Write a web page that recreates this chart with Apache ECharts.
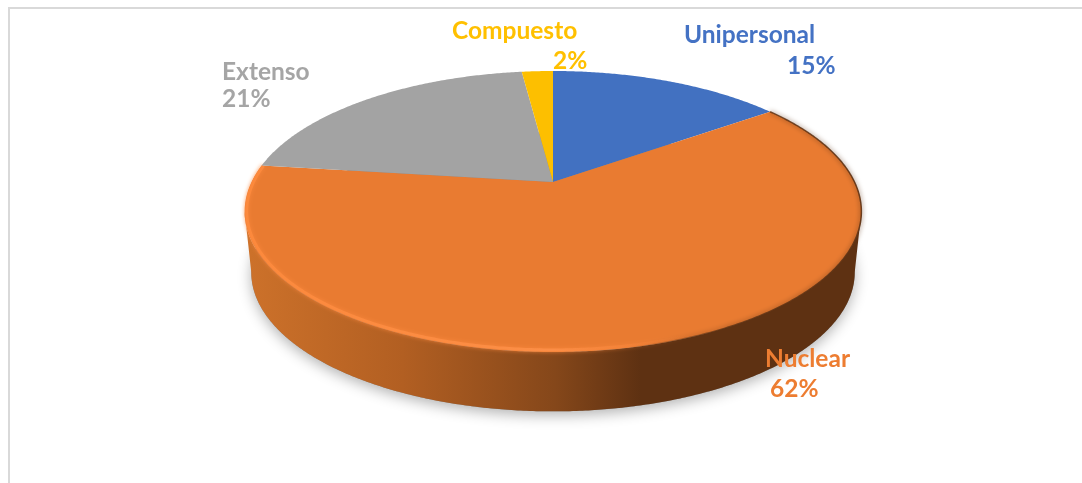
<!DOCTYPE html>
<html>
<head>
<meta charset="utf-8">
<style>
html, body { margin: 0; padding: 0; background: #fff; }
#chart { width: 1082px; height: 483px; }
</style>
<script src="https://cdn.jsdelivr.net/npm/echarts@6/dist/echarts.min.js"></script>
</head>
<body>
<div id="chart"></div>
<script>
const categories = ["Unipersonal", "Nuclear", "Extenso", "Compuesto"];
const shares = [15, 62, 21, 2];
const sliceColors = ["#4271c1", "#e97b31", "#a3a3a3", "#fdbf00"];
const labelColors = ["#4472c4", "#ed7d31", "#a5a5a5", "#ffc000"];
const nameSpots = [[684, 35], [765, 359], [222, 72], [452, 31]];
const shareSpots = [[787, 66], [770, 389], [222, 99], [553, 61]];

// disc drawn in perspective, apex sits above the middle of the ellipse
const tilt = 0.21;
const topDisc = { x: 553, y: 182, rx: 301.5, ry: 134.3 };
const baseDisc = { x: 553, y: 243, rx: 295, ry: 133 };
const frontFrom = Math.PI / 2 + Math.asin(tilt);
const frontTo = 2 * Math.PI - frontFrom;
const glowFrom = 2.6;

const total = shares.reduce((a, b) => a + b, 0);
const sliceRange = (idx) => {
    const before = shares.slice(0, idx).reduce((a, b) => a + b, 0);
    return [before / total * 2 * Math.PI, (before + shares[idx]) / total * 2 * Math.PI];
};
const rimPoint = (disc, angle) => {
    const depth = 1 + tilt * Math.cos(angle);
    return [disc.x + disc.rx * Math.sin(angle) / depth, disc.y - disc.ry * Math.cos(angle) / depth];
};
const rimPoints = (disc, from, to) => {
    const points = [];
    const steps = Math.max(2, Math.ceil((to - from) * 120));
    for (let idx = 0; idx <= steps; idx += 1) {
        points.push(rimPoint(disc, from + (to - from) * idx / steps));
    }
    return points;
};
const sideFill = {
    type: "linear", global: true, x: 250, y: 0, x2: 860, y2: 0,
    colorStops: [
        { offset: 0, color: "#cc712a" },
        { offset: 0.25, color: "#b25f22" },
        { offset: 0.5, color: "#85471a" },
        { offset: 0.64, color: "#5e3112" },
        { offset: 1, color: "#5e3112" },
    ],
};
const glowLine = {
    type: "linear", global: true, x: 245, y: 0, x2: 861, y2: 0,
    colorStops: [
        { offset: 0, color: "rgba(252,137,60,1)" },
        { offset: 0.5, color: "rgba(252,142,70,1)" },
        { offset: 0.62, color: "rgba(250,135,60,0.5)" },
        { offset: 0.72, color: "rgba(250,135,60,0)" },
        { offset: 1, color: "rgba(250,135,60,0)" },
    ],
};
const darkLine = {
    type: "linear", global: true, x: 245, y: 0, x2: 861, y2: 0,
    colorStops: [
        { offset: 0, color: "rgba(94,49,18,0)" },
        { offset: 0.62, color: "rgba(94,49,18,0)" },
        { offset: 0.78, color: "rgba(94,49,18,0.8)" },
        { offset: 1, color: "rgba(94,49,18,0.9)" },
    ],
};

const renderSide = (params) => {
    const [start, end] = sliceRange(params.dataIndex);
    const from = Math.max(start, frontFrom);
    const to = Math.min(end, frontTo);
    if (to <= from) {
        return { type: "group", children: [] };
    }
    const front = rimPoints(topDisc, from, to);
    const back = rimPoints(baseDisc, from, to).reverse();
    return {
        type: "group",
        children: [
            {
                type: "polygon",
                shape: { points: rimPoints(baseDisc, 0, 2 * Math.PI) },
                style: { fill: "#8a8a8a", shadowColor: "rgba(0,0,0,0.3)", shadowBlur: 14, shadowOffsetY: 4 },
            },
            { type: "polygon", shape: { points: front.concat(back) }, style: { fill: sideFill } },
        ],
    };
};
const renderFace = (params) => {
    const [start, end] = sliceRange(params.dataIndex);
    const rim = rimPoints(topDisc, start, end);
    const children = [
        {
            type: "polygon",
            shape: { points: [[topDisc.x, topDisc.y]].concat(rim) },
            style: { fill: sliceColors[params.dataIndex] },
        },
    ];
    if (start < frontTo && end > frontFrom) {
        const inner = { x: topDisc.x, y: topDisc.y, rx: topDisc.rx - 2, ry: topDisc.ry - 1.6 };
        children.push({
            type: "polyline",
            shape: { points: rimPoints(inner, glowFrom, end) },
            style: { fill: null, stroke: glowLine, lineWidth: 3, shadowBlur: 4, shadowColor: "rgb(250,135,60)" },
        });
        children.push({
            type: "polyline",
            shape: { points: rimPoints(topDisc, start, glowFrom + 0.4) },
            style: { fill: null, stroke: darkLine, lineWidth: 1.5, shadowBlur: 5, shadowColor: "rgb(94,49,18)" },
        });
    }
    return { type: "group", children };
};
const renderLabel = (params) => {
    const idx = params.dataIndex;
    const font = "bold 24.5px Lato";
    return {
        type: "group",
        children: [
            {
                type: "text",
                style: { text: categories[idx], x: nameSpots[idx][0], y: nameSpots[idx][1], fill: labelColors[idx], font, textVerticalAlign: "middle" },
            },
            {
                type: "text",
                style: { text: shares[idx] + "%", x: shareSpots[idx][0], y: shareSpots[idx][1], fill: labelColors[idx], font, textVerticalAlign: "middle" },
            },
        ],
    };
};

const chart = echarts.init(document.getElementById("chart"), null, { renderer: "canvas" });
chart.setOption({
    animation: false,
    backgroundColor: "#fff",
    graphic: [
        { type: "line", shape: { x1: 8, y1: 8, x2: 1082, y2: 8 }, style: { stroke: "#d9d9d9", lineWidth: 2 } },
        { type: "line", shape: { x1: 9, y1: 8, x2: 9, y2: 483 }, style: { stroke: "#d9d9d9", lineWidth: 2 } },
    ],
    series: [
        { type: "custom", coordinateSystem: "none", renderItem: renderSide, data: shares, silent: true },
        { type: "custom", coordinateSystem: "none", renderItem: renderFace, data: shares, silent: true },
        { type: "custom", coordinateSystem: "none", renderItem: renderLabel, data: shares, silent: true },
    ],
});
</script>
</body>
</html>
